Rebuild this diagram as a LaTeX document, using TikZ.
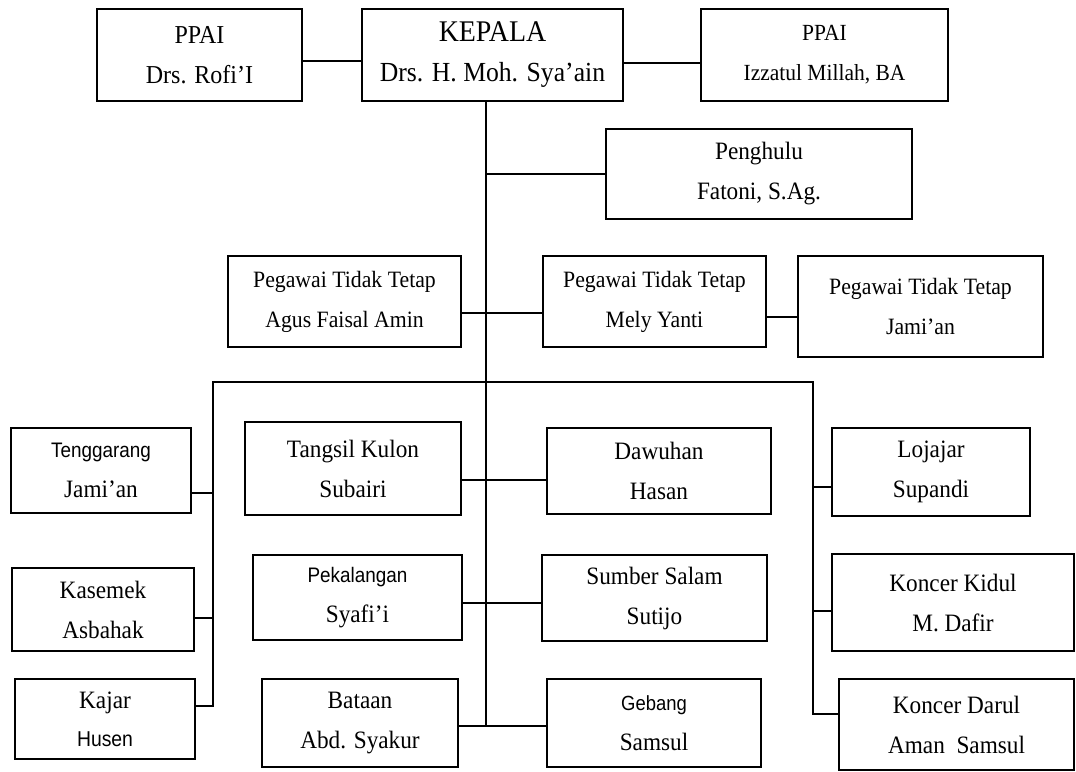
\documentclass[tikz,border=0pt]{standalone}
\usepackage{fontspec}
\setmainfont{Liberation Serif}[FakeStretch=0.93]
\newfontfamily\sansfont{Liberation Sans}[FakeStretch=0.9]
\usepackage{tikz}

\begin{document}
\begin{tikzpicture}[
  x=1pt, y=-1pt,
  box/.style 2 args={rectangle, draw, line width=1.3pt, minimum width=#1pt, minimum height=#2pt, inner sep=0pt, align=center, font=\fontsize{25}{40}\selectfont},
  fz/.style={font=\fontsize{#1}{40}\selectfont},
  link/.style={line width=1.3pt, line cap=rect}
]
  \fill[white] (0,0) rectangle (1076,771);
  \useasboundingbox (0,0) rectangle (1076,771);

  \node[box={205}{92}, fz=25.8] (ppaikiri) at (199.5,55) {PPAI\\Drs. Rofi'I};
  \node[box={261}{92}, fz=27.6] (kepala) at (492.5,55) {{\fontsize{30}{40}\selectfont KEPALA}\\Drs. H. Moh. Sya'ain};
  \node[box={247}{92}, fz=23.1] (ppaikanan) at (824.5,55) {PPAI\\Izzatul Millah, BA};
  \node[box={306}{90}] (penghulu) at (759,174) {Penghulu\\Fatoni, S.Ag.};
  \node[box={233}{91}, fz=23.4] (ptta) at (344.5,301.5) {Pegawai Tidak Tetap\\Agus Faisal Amin};
  \node[box={223}{91}, fz=23.4] (pttb) at (654.5,301.5) {Pegawai Tidak Tetap\\Mely Yanti};
  \node[box={245}{101}, fz=23.4] (pttc) at (920.5,306.5) {Pegawai Tidak Tetap\\Jami'an};

  \node[box={180}{85}] (tenggarang) at (101,470.5) {{\sansfont\fontsize{21}{40}\selectfont Tenggarang}\\Jami'an};
  \node[box={182}{83}] (kasemek) at (103,609.5) {Kasemek\\Asbahak};
  \node[box={180}{80}] (kajar) at (105,719) {Kajar\\[-2pt]{\sansfont\fontsize{21.5}{40}\selectfont Husen}};
  \node[box={216}{93}] (tangsil) at (353,468.5) {Tangsil Kulon\\Subairi};
  \node[box={209}{85}] (pekalangan) at (357.5,597.5) {{\sansfont\fontsize{21}{40}\selectfont Pekalangan}\\Syafi'i};
  \node[box={196}{88}] (bataan) at (360,723) {Bataan\\Abd. Syakur};
  \node[box={224}{86}] (dawuhan) at (659,471) {Dawuhan\\Hasan};
  \node[box={225}{86}] (sumber) at (654.5,598) {Sumber Salam\\Sutijo};
  \node[box={214}{88}] (gebang) at (654,723) {{\sansfont\fontsize{20.5}{40}\selectfont Gebang}\\Samsul};
  \node[box={198}{88}] (lojajar) at (931,472) {Lojajar\\Supandi};
  \node[box={242}{97}] (kidul) at (953,602.5) {Koncer Kidul\\M. Dafir};
  \node[box={235}{91}] (darul) at (956.5,724.5) {Koncer Darul\\Aman~~Samsul};

  \coordinate (pusat) at (486,726);
  \coordinate (buskiri) at (213,382);
  \coordinate (buskanan) at (813,382);

  % pimpinan
  \draw[link] ([yshift=-6pt]ppaikiri.east) -- ([yshift=-6pt]kepala.west);
  \draw[link] ([yshift=-8pt]kepala.east) -- ([yshift=-8pt]ppaikanan.west);
  \draw[link] ([xshift=-6.5pt]kepala.south) -- (pusat);
  \draw[link] (penghulu.west) -- (penghulu.west -| pusat);
  \draw[link] ([yshift=-11.5pt]ptta.east) -- ([yshift=-11.5pt]pttb.west);
  \draw[link] ([yshift=-15.5pt]pttb.east) -- ([yshift=-15.5pt]pttb.east -| pttc.west);

  % desa
  \draw[link] (buskiri) -- (buskanan);
  \draw[link] ([yshift=-22.5pt]tenggarang.east) -| (buskiri);
  \draw[link] ([yshift=-8.5pt]kasemek.east) -| (buskiri);
  \draw[link] ([yshift=13pt]kajar.east) -| (buskiri);
  \draw[link] ([yshift=-11.5pt]tangsil.east) -- ([yshift=-11.5pt]tangsil.east -| dawuhan.west);
  \draw[link] ([yshift=-5.5pt]pekalangan.east) -- ([yshift=-5.5pt]pekalangan.east -| sumber.west);
  \draw[link] ([yshift=-3pt]bataan.east) -- ([yshift=-3pt]bataan.east -| gebang.west);
  \draw[link] ([yshift=-15pt]lojajar.west) -| (buskanan);
  \draw[link] ([yshift=-8.5pt]kidul.west) -| (buskanan);
  \draw[link] ([yshift=10.5pt]darul.west) -| (buskanan);
\end{tikzpicture}
\end{document}
